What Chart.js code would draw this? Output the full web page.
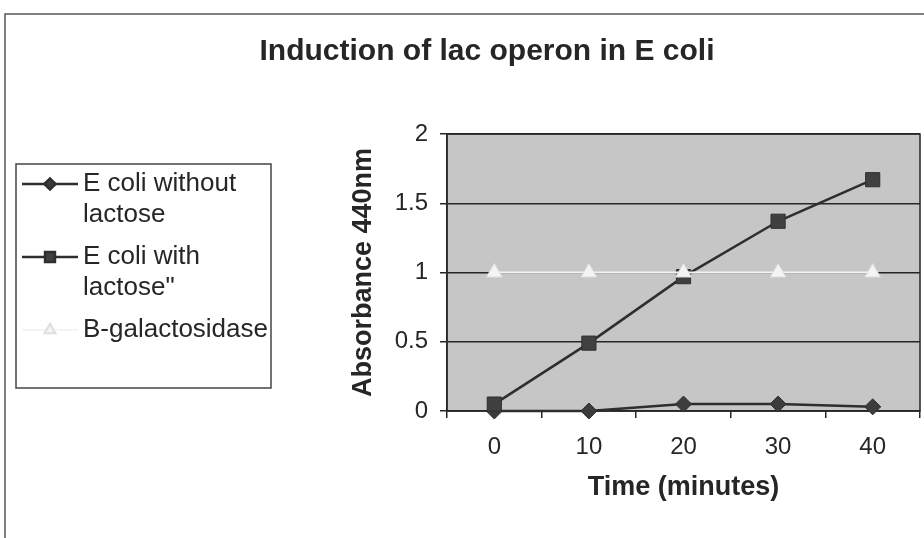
<!DOCTYPE html>
<html>
<head>
<meta charset="utf-8">
<title>Induction of lac operon in E coli</title>
<script src="https://cdn.jsdelivr.net/npm/chart.js@4"></script>
<style>
  html, body { margin: 0; padding: 0; background: #fff; }
  #wrap { position: relative; width: 924px; height: 538px; }
</style>
</head>
<body>
<div id="wrap"><canvas id="chart" width="924" height="538"></canvas></div>
<script>
const TIMES = ['0', '10', '20', '30', '40'];
const WITHOUT_LACTOSE = [0, 0, 0.05, 0.05, 0.03];
const WITH_LACTOSE = [0.05, 0.49, 0.97, 1.37, 1.67];
const B_GALACTOSIDASE = [1, 1, 1, 1, 1];
const SERIES_LABELS = ['E coli without lactose', 'E coli with lactose"', 'B-galactosidase'];
const Y_MIN = 0;
const Y_MAX = 2;
const Y_STEP = 0.5;
const CHART_TITLE = 'Induction of lac operon in E coli';
const X_TITLE = 'Time (minutes)';
const Y_TITLE = 'Absorbance 440nm';

const FONT = '"Liberation Sans", Arial, Helvetica, sans-serif';
const INK = '#262626';

// white page, frame lines, grey plot area
const backdropPlugin = {
  id: 'backdrop',
  beforeDraw(chart) {
    const { ctx, chartArea } = chart;
    ctx.save();
    ctx.fillStyle = '#fff';
    ctx.fillRect(0, 0, chart.width, chart.height);
    ctx.strokeStyle = '#555';
    ctx.lineWidth = 1.5;
    ctx.beginPath();
    ctx.moveTo(5, chart.height);
    ctx.lineTo(5, 14);
    ctx.lineTo(chart.width, 14);
    ctx.stroke();
    ctx.fillStyle = '#c6c6c6';
    ctx.fillRect(chartArea.left, chartArea.top, chartArea.right - chartArea.left, chartArea.bottom - chartArea.top);
    ctx.restore();
  },
  beforeDatasetsDraw(chart) {
    const { ctx, chartArea } = chart;
    ctx.save();
    ctx.strokeStyle = INK;
    ctx.lineWidth = 1.5;
    ctx.strokeRect(chartArea.left, chartArea.top, chartArea.right - chartArea.left, chartArea.bottom - chartArea.top);
    ctx.restore();
  },
};

const titlePlugin = {
  id: 'pageTitle',
  afterDraw(chart) {
    const { ctx } = chart;
    ctx.save();
    ctx.fillStyle = INK;
    ctx.font = `bold 30px ${FONT}`;
    ctx.textAlign = 'center';
    ctx.textBaseline = 'middle';
    ctx.fillText(CHART_TITLE, 487, 52);
    ctx.restore();
  },
};

function wrapText(ctx, text, maxWidth) {
  const words = text.split(' ');
  const lines = [];
  let line = '';
  words.forEach((word) => {
    const test = line ? `${line} ${word}` : word;
    if (line && ctx.measureText(test).width > maxWidth) {
      lines.push(line);
      line = word;
    } else {
      line = test;
    }
  });
  if (line) lines.push(line);
  return lines;
}

// boxed legend on the left with wrapped labels
const sideLegendPlugin = {
  id: 'sideLegend',
  afterDraw(chart) {
    const { ctx } = chart;
    const box = { left: 16, top: 164, width: 255, height: 224 };
    ctx.save();
    ctx.strokeStyle = '#444';
    ctx.lineWidth = 1.5;
    ctx.strokeRect(box.left, box.top, box.width, box.height);

    ctx.font = `26px ${FONT}`;
    ctx.textBaseline = 'middle';
    ctx.textAlign = 'left';
    let y = 184;
    chart.data.datasets.forEach((ds) => {
      const lines = wrapText(ctx, ds.label, 188);
      ctx.strokeStyle = ds.borderColor;
      ctx.lineWidth = ds.borderWidth;
      ctx.beginPath();
      ctx.moveTo(22, y);
      ctx.lineTo(78, y);
      ctx.stroke();
      ctx.fillStyle = ds.pointBackgroundColor;
      ctx.strokeStyle = ds.pointBorderColor;
      Chart.helpers.drawPoint(ctx, {
        pointStyle: ds.pointStyle,
        radius: ds.pointRadius * 0.7,
        rotation: 0,
        borderWidth: 1,
      }, 50, y);
      ctx.fillStyle = INK;
      lines.forEach((text, i) => {
        ctx.fillText(text, 83, y + i * 31);
      });
      y += lines.length * 31 + 11;
    });
    ctx.restore();
  },
};

const ctx = document.getElementById('chart').getContext('2d');

new Chart(ctx, {
  type: 'line',
  data: {
    labels: TIMES,
    datasets: [
      {
        label: SERIES_LABELS[0],
        data: WITHOUT_LACTOSE,
        borderColor: '#2e2e2e',
        borderWidth: 2.5,
        pointStyle: 'rectRot',
        pointRadius: 8,
        pointBackgroundColor: '#3c3c3c',
        pointBorderColor: '#2e2e2e',
        pointBorderWidth: 1,
        tension: 0,
        clip: false,
        order: 2,
      },
      {
        label: SERIES_LABELS[1],
        data: WITH_LACTOSE,
        borderColor: '#2e2e2e',
        borderWidth: 2.5,
        pointStyle: 'rect',
        pointRadius: 10,
        pointBackgroundColor: '#404040',
        pointBorderColor: '#2e2e2e',
        pointBorderWidth: 1,
        tension: 0,
        clip: false,
        order: 1,
      },
      {
        label: SERIES_LABELS[2],
        data: B_GALACTOSIDASE,
        borderColor: '#f4f4f4',
        borderWidth: 2,
        pointStyle: 'triangle',
        pointRadius: 9,
        pointBackgroundColor: '#f4f4f4',
        pointBorderColor: '#dedede',
        pointBorderWidth: 1,
        tension: 0,
        clip: false,
        order: 0,
      },
    ],
  },
  options: {
    responsive: false,
    devicePixelRatio: 1,
    animation: false,
    layout: {
      autoPadding: false,
      padding: { left: 340, top: 134, right: 4, bottom: 27 },
    },
    plugins: {
      legend: { display: false },
      title: { display: false },
      tooltip: { enabled: false },
    },
    scales: {
      x: {
        type: 'category',
        offset: true,
        grid: {
          offset: true,
          drawOnChartArea: false,
          drawTicks: true,
          tickLength: 7,
          color: INK,
          lineWidth: 1.5,
        },
        border: { display: true, color: INK, width: 1.5 },
        ticks: {
          color: INK,
          padding: 15,
          maxRotation: 0,
          font: { size: 24, family: FONT },
        },
        title: {
          display: true,
          text: X_TITLE,
          color: INK,
          font: { size: 27, weight: 'bold', family: FONT },
          padding: { top: 10, bottom: 7 },
        },
        afterFit(scale) {
          scale.height = 100;
          scale.paddingLeft = 0;
          scale.paddingRight = 0;
        },
      },
      y: {
        min: Y_MIN,
        max: Y_MAX,
        grid: {
          color: INK,
          lineWidth: 1.5,
          tickLength: 7,
        },
        border: { display: true, color: INK, width: 1.5 },
        ticks: {
          stepSize: Y_STEP,
          color: INK,
          padding: 12,
          font: { size: 24, family: FONT },
          callback: (value) => `${value}`,
        },
        title: {
          display: true,
          text: Y_TITLE,
          color: INK,
          font: { size: 27, weight: 'bold', family: FONT },
          padding: { top: 7, bottom: 0 },
        },
        afterFit(scale) {
          scale.width = 107;
        },
      },
    },
  },
  plugins: [backdropPlugin, titlePlugin, sideLegendPlugin],
});
</script>
</body>
</html>
